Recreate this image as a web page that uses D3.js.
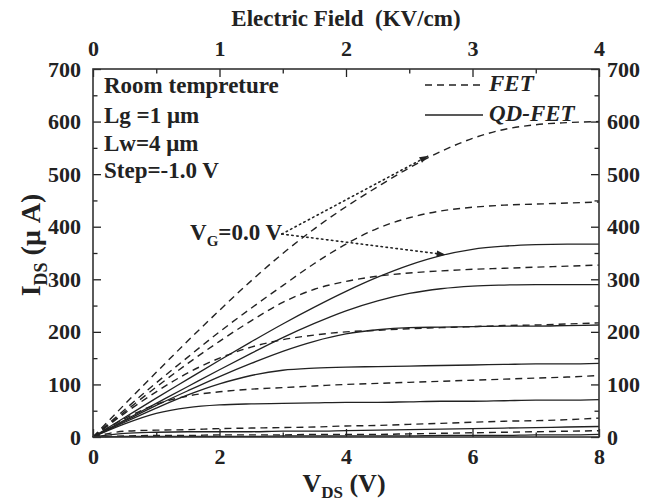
<!DOCTYPE html>
<html>
<head>
<meta charset="utf-8">
<script src="https://cdn.jsdelivr.net/npm/d3@7"></script>
<style>
  html, body { margin: 0; padding: 0; background: #fff; }
  svg { display: block; }
  text { font-family: "Liberation Serif", "Times New Roman", serif; font-weight: bold; fill: #222; }
</style>
</head>
<body>
<svg id="chart" width="656" height="501"></svg>
<script>
// Drain voltage samples (V)
const vds = [0, 0.5, 1, 1.5, 2, 2.5, 3, 3.5, 4, 4.5, 5, 5.5, 6, 6.5, 7, 7.5, 8];

// FET output curves (µA), gate stepped from 0.0 V by -1.0 V
const fet0 = [0, 62, 123, 183, 241, 297, 349, 396, 438, 476, 512, 543, 568, 585, 594, 598, 600];
const fet1 = [0, 52, 103, 152, 200, 245, 288, 330, 367, 397, 417, 430, 437, 441, 443, 445, 447];
const fet2 = [0, 48, 95, 140, 182, 221, 256, 281, 296, 306, 312, 316, 319, 321, 323, 325, 327];
const fet3 = [0, 45, 86, 122, 150, 171, 185, 194, 200, 203, 206, 208, 210, 212, 213, 215, 217];
const fet4 = [0, 35, 62, 78, 86, 91, 94, 97, 100, 102, 104, 106, 108, 110, 112, 114, 117];
const fet5 = [0, 11, 13, 14, 16, 17, 18, 19, 21, 22, 24, 26, 28, 30, 31, 33, 36];
const fet6 = [0, 2, 3, 3, 4, 4, 4, 5, 5, 5, 6, 7, 8, 9, 10, 11, 12];

// QD-FET output curves (µA), same gate steps
const qd0 = [0, 37, 74, 110, 146, 181, 215, 247, 277, 304, 327, 345, 357, 363, 366, 367, 367];
const qd1 = [0, 32, 64, 96, 128, 159, 189, 216, 240, 259, 273, 282, 287, 289, 290, 290, 290];
const qd2 = [0, 30, 60, 88, 115, 140, 163, 182, 196, 204, 208, 209, 210, 211, 211, 212, 213];
const qd3 = [0, 28, 55, 80, 101, 117, 127, 131, 133, 134, 135, 136, 137, 138, 139, 139, 140];
const qd4 = [0, 25, 45, 56, 61, 63, 64, 65, 66, 66, 67, 68, 68, 69, 70, 70, 71];
const qd5 = [0, 7, 9, 10, 10, 10, 11, 11, 12, 13, 14, 15, 16, 17, 18, 19, 20];
const qd6 = [0, 1, 1, 1, 1, 1, 2, 2, 2, 2, 2, 3, 3, 3, 4, 4, 5];

const fetSeries = [fet0, fet1, fet2, fet3, fet4, fet5, fet6];
const qdSeries = [qd0, qd1, qd2, qd3, qd4, qd5, qd6];

// Axis ticks
const yTicks = [0, 100, 200, 300, 400, 500, 600, 700];
const xTicks = [0, 2, 4, 6, 8];
const fieldTicks = [0, 1, 2, 3, 4];

// Annotation: V_G = 0.0 V label and the points it points at (V, µA)
const vgLabelAt = [3.0, 386];
const vgTargets = [[5.29, 534], [5.56, 347]];

const infoLines = ["Room tempreture", "Lg =1 μm", "Lw=4 μm", "Step=-1.0 V"];

const svg = d3.select("#chart");
const L = 93, R = 599, T = 69, B = 437;
const x = d3.scaleLinear().domain([0, 8]).range([L, R]);
const xTop = d3.scaleLinear().domain([0, 4]).range([L, R]);
const y = d3.scaleLinear().domain([0, 700]).range([B, T]);

const ink = "#222";

// curves
const line = d3.line()
  .x((d, i) => x(vds[i]))
  .y(d => y(d))
  .curve(d3.curveMonotoneX);

const plot = svg.append("g");
plot.selectAll("path.fet").data(fetSeries).join("path")
  .attr("class", "fet")
  .attr("d", line)
  .attr("fill", "none").attr("stroke", ink).attr("stroke-width", 1.4)
  .attr("stroke-dasharray", "7,5");
plot.selectAll("path.qd").data(qdSeries).join("path")
  .attr("class", "qd")
  .attr("d", line)
  .attr("fill", "none").attr("stroke", ink).attr("stroke-width", 1.3);

// axes with inward ticks
function styleAxis(g) {
  g.select(".domain").remove();
  g.selectAll(".tick line").attr("stroke", ink).attr("stroke-width", 1.3);
  g.selectAll(".tick text").attr("font-size", 22).attr("fill", ink)
    .attr("font-family", "Liberation Serif, serif").attr("font-weight", "bold");
}
const major = 8, minor = 4.5;

svg.append("g").attr("transform", `translate(0,${B})`)
  .call(d3.axisBottom(x).tickValues([1, 3, 5, 7]).tickSize(-minor).tickFormat(""))
  .call(styleAxis);
svg.append("g").attr("transform", `translate(0,${B})`)
  .call(d3.axisBottom(x).tickValues(xTicks).tickSize(-major).tickPadding(11).tickFormat(d3.format("d")))
  .call(styleAxis);

svg.append("g").attr("transform", `translate(0,${T})`)
  .call(d3.axisTop(xTop).tickValues([0.5, 1.5, 2.5, 3.5]).tickSize(-minor).tickFormat(""))
  .call(styleAxis);
svg.append("g").attr("transform", `translate(0,${T})`)
  .call(d3.axisTop(xTop).tickValues(fieldTicks).tickSize(-major).tickPadding(13).tickFormat(d3.format("d")))
  .call(styleAxis);

const minorY = d3.range(50, 700, 100);
svg.append("g").attr("transform", `translate(${L},0)`)
  .call(d3.axisLeft(y).tickValues(minorY).tickSize(-minor).tickFormat(""))
  .call(styleAxis);
svg.append("g").attr("transform", `translate(${L},0)`)
  .call(d3.axisLeft(y).tickValues(yTicks).tickSize(-major).tickPadding(12).tickFormat(d3.format("d")))
  .call(styleAxis);
svg.append("g").attr("transform", `translate(${R},0)`)
  .call(d3.axisRight(y).tickValues(minorY).tickSize(-minor).tickFormat(""))
  .call(styleAxis);
svg.append("g").attr("transform", `translate(${R},0)`)
  .call(d3.axisRight(y).tickValues(yTicks).tickSize(-major).tickPadding(8).tickFormat(d3.format("d")))
  .call(styleAxis);

// frame
svg.append("rect").attr("x", L).attr("y", T).attr("width", R - L).attr("height", B - T)
  .attr("fill", "none").attr("stroke", "#333").attr("stroke-width", 1.6);

// axis titles
svg.append("text").attr("x", (L + R) / 2).attr("y", 26).attr("text-anchor", "middle")
  .attr("font-size", 23).style("white-space", "pre").text("Electric Field  (KV/cm)");

const xt = svg.append("text").attr("x", (L + R) / 2 - 2).attr("y", 492).attr("text-anchor", "middle").attr("font-size", 26);
xt.append("tspan").text("V");
xt.append("tspan").attr("font-size", 17).attr("dy", 6).text("DS");
xt.append("tspan").attr("dy", -6).text(" (V)");

const yt = svg.append("text").attr("transform", `translate(40,${(T + B) / 2 - 8}) rotate(-90)`)
  .attr("text-anchor", "middle").attr("font-size", 28);
yt.append("tspan").text("I");
yt.append("tspan").attr("font-size", 18).attr("dy", 7).text("DS");
yt.append("tspan").attr("dy", -7).text(" (μ A)");

// info block
svg.append("g").selectAll("text").data(infoLines).join("text")
  .attr("x", 104).attr("y", (d, i) => [93, 123, 151, 178][i])
  .attr("font-size", 23).text(d => d);

// legend
const lg = svg.append("g");
lg.append("line").attr("x1", 425).attr("x2", 483).attr("y1", 85).attr("y2", 85)
  .attr("stroke", ink).attr("stroke-width", 1.4).attr("stroke-dasharray", "7,5");
lg.append("text").attr("x", 489).attr("y", 91).attr("font-size", 23).attr("font-style", "italic").text("FET");
lg.append("line").attr("x1", 425).attr("x2", 483).attr("y1", 115).attr("y2", 115)
  .attr("stroke", ink).attr("stroke-width", 1.3);
lg.append("text").attr("x", 489).attr("y", 121).attr("font-size", 23).attr("font-style", "italic").text("QD-FET");

// V_G annotation with dotted pointers
const vg = svg.append("text").attr("x", 190).attr("y", 240).attr("font-size", 23);
vg.append("tspan").text("V");
vg.append("tspan").attr("font-size", 15).attr("dy", 6).text("G");
vg.append("tspan").attr("dy", -6).text("=0.0 V");

const ax0 = x(vgLabelAt[0]) - 1, ay0 = y(vgLabelAt[1]);
vgTargets.forEach(([tv, ti]) => {
  const tx = x(tv), ty = y(ti);
  svg.append("line").attr("x1", ax0).attr("y1", ay0).attr("x2", tx).attr("y2", ty)
    .attr("stroke", ink).attr("stroke-width", 1.6).attr("stroke-dasharray", "1.5,3.5")
    .attr("stroke-linecap", "round");
  const ang = Math.atan2(ty - ay0, tx - ax0) * 180 / Math.PI;
  svg.append("path").attr("d", "M1,0 L-8,-3.2 L-8,3.2 Z")
    .attr("transform", `translate(${tx},${ty}) rotate(${ang})`)
    .attr("fill", ink);
});
</script>
</body>
</html>
